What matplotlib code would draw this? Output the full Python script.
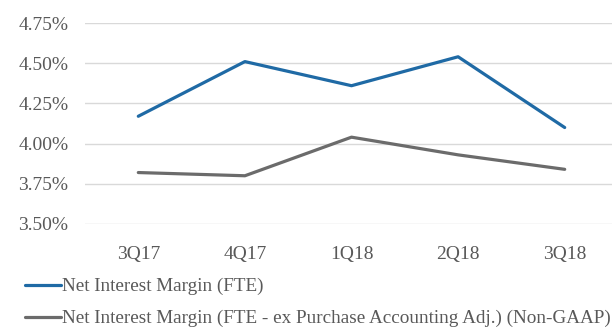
import matplotlib
matplotlib.use("Agg")
import matplotlib.pyplot as plt
from matplotlib.ticker import FuncFormatter

quarters = ["3Q17", "4Q17", "1Q18", "2Q18", "3Q18"]
nim_fte = [4.17, 4.51, 4.36, 4.54, 4.10]
nim_ex_pa = [3.82, 3.80, 4.04, 3.93, 3.84]
y_ticks = [3.50, 3.75, 4.00, 4.25, 4.50, 4.75]

label_fte = "Net Interest Margin (FTE)"
label_ex = "Net Interest Margin (FTE - ex Purchase Accounting Adj.) (Non-GAAP)"

plt.rcParams["font.family"] = ["Liberation Serif", "DejaVu Serif"]
text_color = "#595959"

fig = plt.figure(figsize=(6.12, 3.29), dpi=100)
ax = fig.add_axes([85 / 612, 1 - 224 / 329, 533 / 612, 201 / 329])

x = range(len(quarters))
ax.plot(x, nim_fte, color="#1f6aa5", lw=2.3, solid_capstyle="round", label=label_fte, zorder=3)
ax.plot(x, nim_ex_pa, color="#6b6b6b", lw=2.3, solid_capstyle="round", label=label_ex, zorder=3)

ax.set_xlim(-0.5, 4.5)
ax.set_ylim(3.50, 4.75)
ax.set_yticks(y_ticks)
ax.yaxis.set_major_formatter(FuncFormatter(lambda v, p: f"{v:.2f}%"))
ax.set_xticks(list(x))
ax.set_xticklabels(quarters)
ax.grid(axis="y", color="#d9d9d9", lw=1)
ax.set_axisbelow(True)
for s in ax.spines.values():
    s.set_visible(False)
ax.tick_params(length=0, labelsize=14, labelcolor=text_color)
ax.tick_params(axis="y", pad=12)
ax.tick_params(axis="x", pad=16)

fig.legend(loc="upper left", bbox_to_anchor=(25 / 612, 1 - 278 / 329), frameon=False,
           handlelength=1.9, handletextpad=0.05, labelspacing=0.75,
           fontsize=13.8, labelcolor=text_color, borderaxespad=0, borderpad=0)

fig.savefig("out.png", dpi=100)
